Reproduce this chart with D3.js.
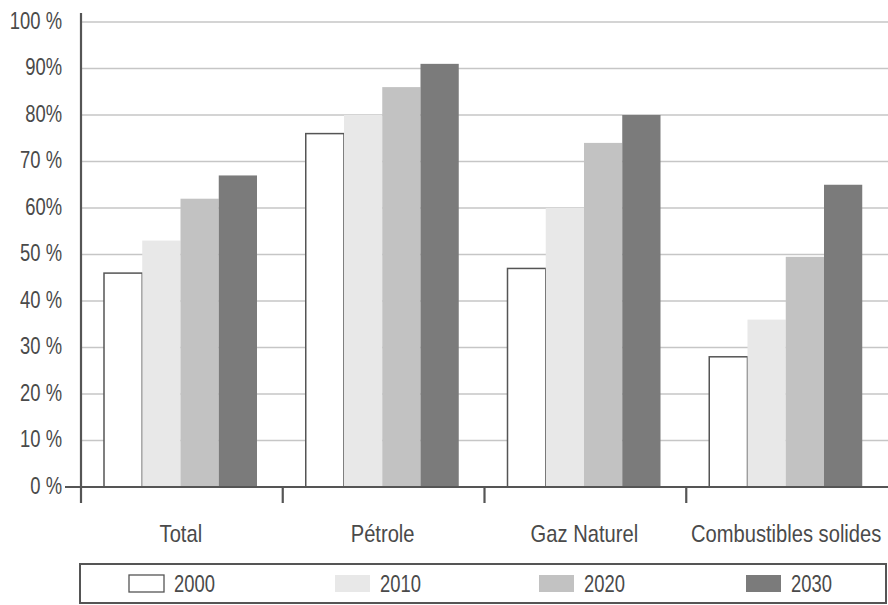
<!DOCTYPE html>
<html>
<head>
<meta charset="utf-8">
<script src="https://cdn.jsdelivr.net/npm/d3@7"></script>
<style>
  html, body { margin: 0; padding: 0; background: #ffffff; }
  svg { display: block; }
  text { font-family: "Liberation Sans", Arial, sans-serif; fill: #4a4a4a; }
</style>
</head>
<body>
<svg id="chart" width="888" height="605"></svg>
<script>
const categories = ["Total", "Pétrole", "Gaz Naturel", "Combustibles solides"];
const years = ["2000", "2010", "2020", "2030"];
const v2000 = [46, 76, 47, 28];
const v2010 = [53, 80, 60, 36];
const v2020 = [62, 86, 74, 49.5];
const v2030 = [67, 91, 80, 65];
const yTicks = [0, 10, 20, 30, 40, 50, 60, 70, 80, 90, 100];
const yTickLabels = ["0 %", "10 %", "20 %", "30 %", "40 %", "50 %", "60%", "70 %", "80%", "90%", "100 %"];
const fills = ["#ffffff", "#e8e8e8", "#c2c2c2", "#7b7b7b"];

const series = [v2000, v2010, v2020, v2030];
const SX = 0.8; // horizontal condensing of the text
const FS = 23;

const svg = d3.select("#chart");
const axisColor = "#555555";

const y = d3.scaleLinear().domain([0, 100]).range([487, 22]);
const x0 = d3.scaleBand().domain(categories).range([81, 888]).padding(0);
const x1 = d3.scaleBand().domain(years).range([23, 176]).padding(0);

// gridlines
svg.append("g").selectAll("line")
  .data(yTicks.filter(d => d > 0))
  .join("line")
  .attr("x1", 81).attr("x2", 888)
  .attr("y1", d => y(d)).attr("y2", d => y(d))
  .attr("stroke", "#c6c6c6").attr("stroke-width", 1.3);

// bars
const groups = svg.append("g").selectAll("g")
  .data(categories)
  .join("g")
  .attr("transform", d => `translate(${x0(d)},0)`);

groups.selectAll("rect")
  .data((c, ci) => years.map((yr, yi) => ({ yr, yi, v: series[yi][ci] })))
  .join("rect")
  .attr("x", d => x1(d.yr))
  .attr("width", x1.bandwidth())
  .attr("y", d => y(d.v))
  .attr("height", d => y(0) - y(d.v))
  .attr("fill", d => fills[d.yi])
  .attr("stroke", d => d.yi === 0 ? "#555555" : "none")
  .attr("stroke-width", 1.5);

// y axis
const yAxis = d3.axisLeft(y).tickValues(yTicks).tickSize(0).tickPadding(0)
  .tickFormat((d, i) => yTickLabels[i]);
const yg = svg.append("g").attr("transform", "translate(81,0)").call(yAxis);
yg.select(".domain").remove();
yg.selectAll("text")
  .attr("x", -19 / SX)
  .attr("dy", "0.28em")
  .attr("transform", `scale(${SX},1)`)
  .style("font-size", FS + "px")
  .style("font-family", '"Liberation Sans", Arial, sans-serif')
  .attr("fill", "#4a4a4a");

svg.append("line")
  .attr("x1", 81).attr("x2", 81).attr("y1", 13).attr("y2", 503)
  .attr("stroke", axisColor).attr("stroke-width", 2.2);

// x axis
svg.append("line")
  .attr("x1", 65).attr("x2", 888).attr("y1", y(0)).attr("y2", y(0))
  .attr("stroke", axisColor).attr("stroke-width", 2.2);

const tickPos = categories.map(c => x0(c)).slice(1);
svg.append("g").selectAll("line")
  .data(tickPos)
  .join("line")
  .attr("x1", d => d).attr("x2", d => d)
  .attr("y1", y(0)).attr("y2", 503)
  .attr("stroke", axisColor).attr("stroke-width", 2.2);

// category labels
svg.append("g").selectAll("text")
  .data(categories)
  .join("text")
  .attr("transform", d => `translate(${x0(d) + x0.bandwidth() / 2 - 1},542) scale(0.84,1)`)
  .attr("text-anchor", "middle")
  .style("font-size", "24px")
  .text(d => d);

// legend
svg.append("rect")
  .attr("x", 80).attr("y", 564).attr("width", 806).attr("height", 39)
  .attr("fill", "none").attr("stroke", axisColor).attr("stroke-width", 2);

const legendX = [129, 335, 539, 746];
const lg = svg.append("g").selectAll("g")
  .data(years)
  .join("g")
  .attr("transform", (d, i) => `translate(${legendX[i]},0)`);
lg.append("rect")
  .attr("x", 0).attr("y", 575).attr("width", 35).attr("height", 17)
  .attr("fill", (d, i) => fills[i])
  .attr("stroke", (d, i) => i === 0 ? "#555555" : "none")
  .attr("stroke-width", 1.3);
lg.append("text")
  .attr("transform", `translate(45,592) scale(${SX},1)`)
  .style("font-size", FS + "px")
  .text(d => d);
</script>
</body>
</html>
